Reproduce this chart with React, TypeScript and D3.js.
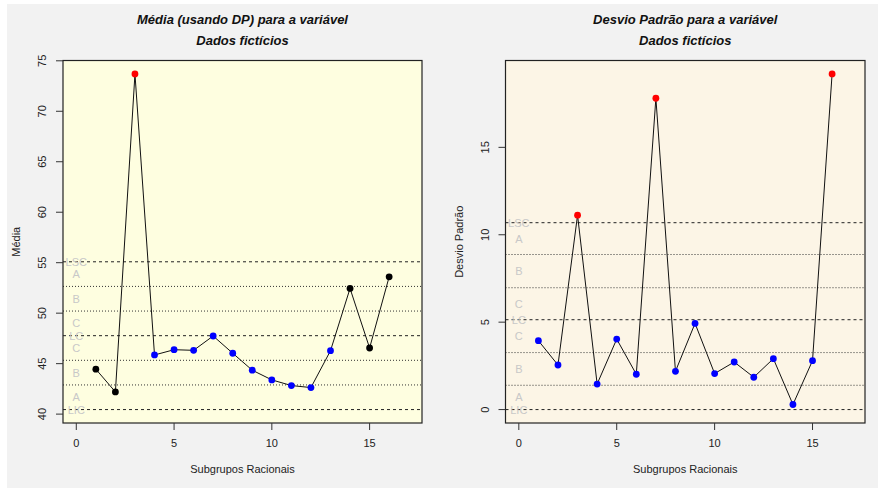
import React, { useEffect, useRef } from 'react';
import * as d3 from 'd3';

const width = 878;
const height = 488;

const subgroups = d3.range(1, 17);
const meanValues = [44.45, 42.2, 73.7, 45.86, 46.38, 46.32, 47.74, 46.03, 44.35, 43.39, 42.83, 42.63, 46.28, 52.45, 46.55, 53.6];
const meanColors = ['black', 'black', 'red', 'blue', 'blue', 'blue', 'blue', 'blue', 'blue', 'blue', 'blue', 'blue', 'blue', 'black', 'black', 'black'];
const meanLines = [40.45, 42.89, 45.33, 47.77, 50.21, 52.65, 55.09];
const meanTicks = [40, 45, 50, 55, 60, 65, 70, 75];

const sdValues = [3.94, 2.55, 11.12, 1.46, 4.03, 2.02, 17.81, 2.19, 4.93, 2.06, 2.72, 1.85, 2.91, 0.29, 2.8, 19.2];
const sdColors = ['blue', 'blue', 'red', 'blue', 'blue', 'blue', 'red', 'blue', 'blue', 'blue', 'blue', 'blue', 'blue', 'blue', 'blue', 'red'];
const sdLines = [0, 1.39, 3.26, 5.14, 6.97, 8.87, 10.69];
const sdTicks = [0, 5, 10, 15];

const xTicks = [0, 5, 10, 15];
const zoneLabels = ['LIC', 'A', 'B', 'C', 'LC', 'C', 'B', 'A', 'LSC'];

const font = "'Liberation Sans', Arial, sans-serif";
const blueC = '#0000ff';
const redC = '#ff0000';

const pad = (lo: number, hi: number): [number, number] => {
  const d = (hi - lo) * 0.04;
  return [lo - d, hi + d];
};

type Panel = {
  left: number;
  right: number;
  title: string;
  yLabel: string;
  fill: string;
  values: number[];
  colors: string[];
  lines: number[];
  ticks: number[];
};

const top = 60.5;
const bottom = 423;

const drawPanel = (svg: d3.Selection<SVGSVGElement, unknown, null, undefined>, p: Panel) => {
  const g = svg.append('g');
  const x = d3.scaleLinear().domain(pad(0, 17)).range([p.left, p.right]);
  const allY = [...p.values, ...p.lines];
  const y = d3.scaleLinear().domain(pad(d3.min(allY)!, d3.max(allY)!)).range([bottom, top]);
  const cx = (p.left + p.right) / 2;

  g.append('rect')
    .attr('x', p.left)
    .attr('y', top)
    .attr('width', p.right - p.left)
    .attr('height', bottom - top)
    .attr('fill', p.fill);

  // zone lines: limits dashed, zone borders dotted
  p.lines.forEach((v, i) => {
    const isLimit = i % 3 === 0;
    g.append('line')
      .attr('x1', p.left)
      .attr('x2', p.right)
      .attr('y1', y(v))
      .attr('y2', y(v))
      .attr('stroke', isLimit ? '#222' : '#333')
      .attr('stroke-width', 1)
      .attr('stroke-dasharray', isLimit ? '3,3' : '1,2');
  });

  // zone labels: on the limits, and mid-zone for A/B/C
  const labelPos: number[] = [];
  p.lines.forEach((v, i) => {
    if (i % 3 === 0) labelPos.push(v);
    if (i < p.lines.length - 1) labelPos.push((v + p.lines[i + 1]) / 2);
  });
  g.selectAll('text.zone')
    .data(labelPos)
    .enter()
    .append('text')
    .attr('class', 'zone')
    .attr('x', x(0))
    .attr('y', d => y(d))
    .attr('dy', '0.36em')
    .attr('text-anchor', 'middle')
    .attr('font-family', font)
    .attr('font-size', 11)
    .attr('fill', '#c8c8c8')
    .text((d, i) => zoneLabels[i]);

  const line = d3
    .line<number>()
    .x((d, i) => x(subgroups[i]))
    .y(d => y(d));
  g.append('path')
    .attr('d', line(p.values))
    .attr('fill', 'none')
    .attr('stroke', '#111')
    .attr('stroke-width', 1);

  g.selectAll('circle')
    .data(p.values)
    .enter()
    .append('circle')
    .attr('cx', (d, i) => x(subgroups[i]))
    .attr('cy', d => y(d))
    .attr('r', 3.4)
    .attr('fill', (d, i) => (p.colors[i] === 'red' ? redC : p.colors[i] === 'blue' ? blueC : '#000'));

  g.append('rect')
    .attr('x', p.left)
    .attr('y', top)
    .attr('width', p.right - p.left)
    .attr('height', bottom - top)
    .attr('fill', 'none')
    .attr('stroke', '#222')
    .attr('stroke-width', 1.2);

  xTicks.forEach(t => {
    g.append('line')
      .attr('x1', x(t))
      .attr('x2', x(t))
      .attr('y1', bottom)
      .attr('y2', bottom + 7)
      .attr('stroke', '#333');
    g.append('text')
      .attr('x', x(t))
      .attr('y', 447)
      .attr('text-anchor', 'middle')
      .attr('font-family', font)
      .attr('font-size', 11)
      .attr('fill', '#222')
      .text(t);
  });

  p.ticks.forEach(t => {
    g.append('line')
      .attr('x1', p.left - 7)
      .attr('x2', p.left)
      .attr('y1', y(t))
      .attr('y2', y(t))
      .attr('stroke', '#333');
    g.append('text')
      .attr('transform', `translate(${p.left - 17},${y(t)}) rotate(-90)`)
      .attr('text-anchor', 'middle')
      .attr('font-family', font)
      .attr('font-size', 11)
      .attr('fill', '#222')
      .text(t);
  });

  [p.title, 'Dados fictícios'].forEach((t, i) => {
    g.append('text')
      .attr('x', cx)
      .attr('y', 23.7 + i * 21)
      .attr('text-anchor', 'middle')
      .attr('font-family', font)
      .attr('font-size', 13)
      .attr('font-weight', 'bold')
      .attr('font-style', 'italic')
      .attr('fill', '#111')
      .text(t);
  });

  g.append('text')
    .attr('x', cx)
    .attr('y', 473)
    .attr('text-anchor', 'middle')
    .attr('font-family', font)
    .attr('font-size', 11)
    .attr('fill', '#222')
    .text('Subgrupos Racionais');

  g.append('text')
    .attr('transform', `translate(${p.left - 43},${(top + bottom) / 2}) rotate(-90)`)
    .attr('text-anchor', 'middle')
    .attr('font-family', font)
    .attr('font-size', 11)
    .attr('fill', '#222')
    .text(p.yLabel);
};

const App: React.FC = () => {
  const ref = useRef<SVGSVGElement>(null);

  useEffect(() => {
    if (!ref.current) return;
    const svg = d3.select(ref.current);
    svg.selectAll('*').remove();

    svg.append('rect').attr('width', width).attr('height', height).attr('fill', '#ffffff');
    svg.append('rect').attr('x', 7).attr('y', 4).attr('width', width - 7).attr('height', height - 4).attr('fill', '#f2f2f2');

    drawPanel(svg, {
      left: 63,
      right: 422,
      title: 'Média (usando DP) para a variável',
      yLabel: 'Média',
      fill: '#fefee0',
      values: meanValues,
      colors: meanColors,
      lines: meanLines,
      ticks: meanTicks,
    });

    drawPanel(svg, {
      left: 505.5,
      right: 865,
      title: 'Desvio Padrão para a variável',
      yLabel: 'Desvio Padrão',
      fill: '#fcf5e6',
      values: sdValues,
      colors: sdColors,
      lines: sdLines,
      ticks: sdTicks,
    });
  }, []);

  return (
    <svg
      ref={ref}
      width={width}
      height={height}
      style={{ position: 'absolute', left: 0, top: 0, display: 'block' }}
    />
  );
};

export default App;
